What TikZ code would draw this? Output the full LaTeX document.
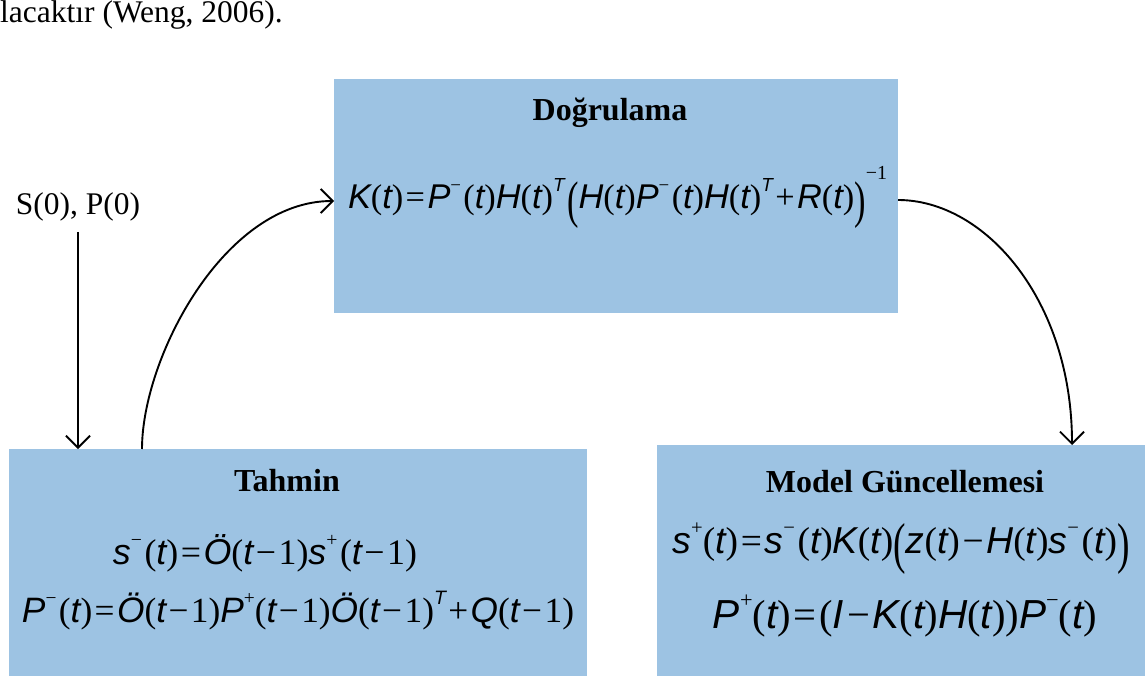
\documentclass[tikz,border=0pt]{standalone}
\usepackage{fontspec}
\usepackage{graphicx}
\setmainfont{Liberation Serif}
\newfontfamily\arialf{Liberation Sans}
\usetikzlibrary{arrows.meta}
\definecolor{boxblue}{RGB}{157,195,227}
\newcommand\va[1]{{\arialf\itshape #1}}
\newcommand\gs{\hspace{0.07em}}
\newcommand\tpar{(\va{t})}
\newcommand\tmo{(\va{t}\gs−\gs1)}
\newcommand\supr[1]{\raisebox{0.5em}{\scalebox{0.55}{#1}}}
\newcommand\bigLp{\raisebox{-0.26em}{\scalebox{1}[1.5]{(}}}
\newcommand\bigRp{\raisebox{-0.26em}{\scalebox{1}[1.5]{)}}}
\begin{document}
\begin{tikzpicture}[x=1pt,y=-1pt,
  box/.style={fill=boxblue,draw=none,inner sep=0pt,outer sep=0pt},
  ttl/.style={font=\fontsize{32}{38}\selectfont\bfseries,inner sep=0pt,anchor=base},
  txt/.style={font=\fontsize{31.5}{38}\selectfont,inner sep=0pt},
  eq/.style={font=\fontsize{28}{34}\selectfont,inner sep=0pt,anchor=base},
  conn/.style={line width=1.9pt,-{Straight Barb[length=12pt,width=24pt]}}]
\useasboundingbox (0,0) rectangle (1145,676);
\fill[white] (0,0) rectangle (1145,676);
% boxes
\node[box,minimum width=564pt,minimum height=234pt] (dog) at (616,196) {};
\node[box,minimum width=578pt,minimum height=231pt] (tah) at (298,564.5) {};
\node[box,minimum width=493pt,minimum height=235pt] (mod) at (903.5,562.5) {};
% texts
\node[txt,anchor=base west] (prev) at (0,23) {lacaktır (Weng, 2006).};
\node[txt,anchor=base] (s0) at (78,215) {S(0), P(0)};
\node[ttl] (dogt) at (610,121) {Doğrulama};
\node[eq] (keq) at (617.5,209) {\resizebox{539pt}{!}{\va{K}\tpar\gs=\gs\va{P}\supr{−}\gs\tpar\va{H}\tpar\supr{\va{T}}\gs\bigLp\va{H}\tpar\va{P}\supr{−}\gs\tpar\va{H}\tpar\supr{\va{T}}\gs+\gs\va{R}\tpar\bigRp\raisebox{0.85em}{\scalebox{0.58}{−1}}}};
\node[ttl] (taht) at (287,491) {Tahmin};
\node[eq] (s1) at (265,564) {\resizebox{304pt}{!}{\va{s}\supr{−}\gs\tpar\gs=\gs\va{Ö}\tmo\va{s}\supr{+}\gs\tmo}};
\node[eq] (p1) at (298,622) {\resizebox{552pt}{!}{\va{P}\supr{−}\gs\tpar\gs=\gs\va{Ö}\tmo\va{P}\supr{+}\tmo\va{Ö}\tmo\supr{\va{T}}\gs+\gs\va{Q}\tmo}};
\node[ttl] (modt) at (905,492) {Model Güncellemesi};
\node[eq] (s2) at (901,553) {\resizebox{457pt}{!}{\va{s}\supr{+}\tpar\gs=\gs\va{s}\supr{−}\gs\tpar\va{K}\tpar\bigLp\va{z}\tpar\gs−\gs\va{H}\tpar\va{s}\supr{−}\gs\tpar\bigRp}};
\node[eq] (p2) at (905,628) {\resizebox{384pt}{!}{\va{P}\supr{+}\tpar\gs=\gs(\va{I}\gs−\gs\va{K}\tpar\va{H}\tpar)\va{P}\supr{−}\tpar}};
% connectors
\coordinate (c1s) at ([xshift=133pt]tah.north west);
\coordinate (c1e) at ([yshift=-5pt]dog.west);
\draw[conn] (c1s) .. controls +(0,-91) and +(-110,0) .. (c1e);
\coordinate (c2s) at ([yshift=-4pt]dog.east);
\coordinate (c2e) at ([xshift=415pt]mod.north west);
\draw[conn] (c2s) .. controls +(87,0) and +(0,-145) .. (c2e);
\draw[conn] ([yshift=-10pt]s0.south) -- (s0.south |- tah.north);
\end{tikzpicture}
\end{document}
